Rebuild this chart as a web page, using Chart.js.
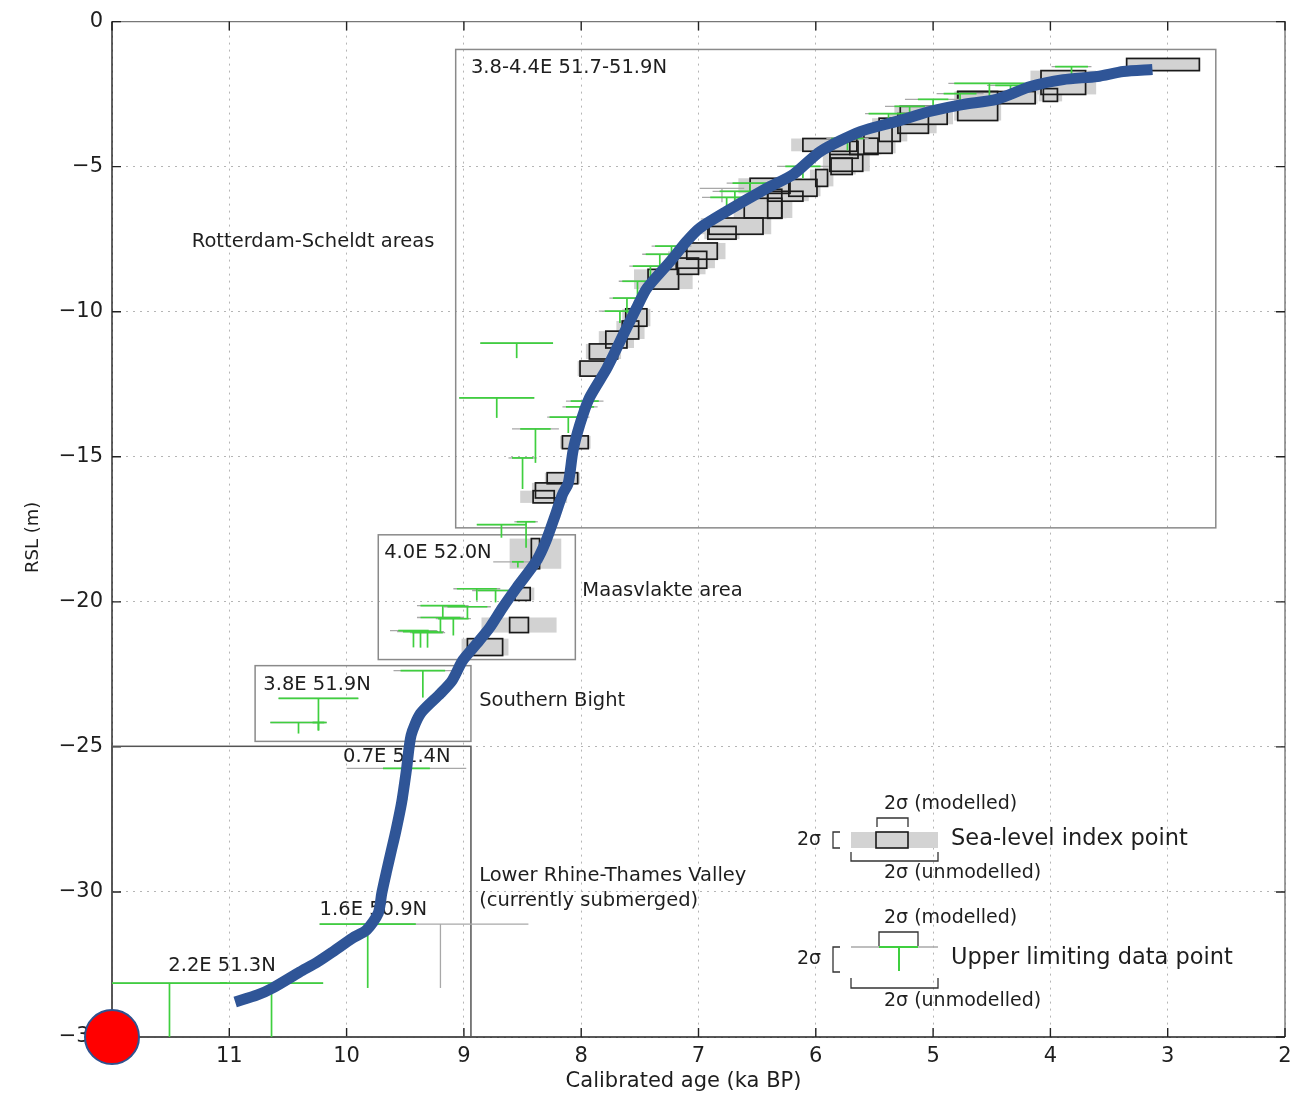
<!DOCTYPE html>
<html>
<head>
<meta charset="utf-8">
<script src="https://cdn.jsdelivr.net/npm/chart.js@4.4.1/dist/chart.umd.min.js"></script>
<style>
  html, body { margin: 0; padding: 0; background: #fff; }
  #wrap { width: 1299px; height: 1099px; }
</style>
</head>
<body>
<div id="wrap"><canvas id="c" width="1299" height="1099"></canvas></div>
<script>
// axis ticks
const ageTicks = [2, 3, 4, 5, 6, 7, 8, 9, 10, 11, 12];
const rslTicks = [0, -5, -10, -15, -20, -25, -30, -35];

// hand-drawn RSL curve (ka BP, m)
const curveAge = [10.95, 10.76, 10.63, 10.40, 10.25, 10.12, 9.95, 9.83, 9.73, 9.70, 9.66, 9.62, 9.58, 9.53,
  9.49, 9.45, 9.37, 9.20, 9.10, 9.01, 8.89, 8.78, 8.67, 8.55, 8.38, 8.30, 8.22, 8.16, 8.11, 8.07, 8.01, 7.93,
  7.78, 7.63, 7.52, 7.44, 7.24, 7.10, 6.99, 6.76, 6.42, 6.19, 5.96, 5.62, 5.31, 5.03, 4.75, 4.46, 4.17, 3.89,
  3.60, 3.38, 3.13];
const curveRsl = [-33.79, -33.55, -33.31, -32.76, -32.42, -32.07, -31.59, -31.31, -30.73, -30.04, -29.3, -28.6,
  -27.9, -26.9, -25.8, -24.6, -23.85, -23.16, -22.71, -22.02, -21.44, -20.89, -20.20, -19.51, -18.58, -17.9,
  -17.0, -16.3, -15.9, -14.8, -13.87, -12.97, -11.94, -10.7, -9.8, -9.19, -8.26, -7.57, -7.12, -6.54, -5.75,
  -5.26, -4.47, -3.79, -3.44, -3.10, -2.86, -2.68, -2.24, -2.00, -1.89, -1.72, -1.65];

// sea-level index points: centre, modelled age half-range, depth half-range, unmodelled age half-range
const idxAge = [3.04, 3.89, 4.00, 4.46, 4.62, 5.08, 5.17, 5.37, 5.47, 5.59, 5.76, 5.74, 5.88, 5.78, 5.95, 6.11,
  6.39, 6.26, 6.35, 6.45, 6.68, 6.80, 6.97, 7.06, 7.09, 7.30, 7.53, 7.58, 7.70, 7.81, 7.90, 8.05, 8.16, 8.27,
  8.32, 8.39, 8.50, 8.53, 8.82];
const idxRsl = [-1.48, -2.10, -2.53, -2.62, -2.91, -3.23, -3.51, -3.73, -4.08, -4.30, -4.42, -4.87, -4.25, -4.99,
  -5.39, -5.73, -5.66, -6.02, -6.28, -6.43, -7.05, -7.28, -7.91, -8.21, -8.43, -8.88, -10.20, -10.63, -10.96,
  -11.37, -11.96, -14.50, -15.74, -16.16, -16.38, -18.34, -19.73, -20.80, -21.56];
const idxAgeErr = [0.31, 0.19, 0.06, 0.33, 0.17, 0.20, 0.13, 0.09, 0.12, 0.12, 0.12, 0.14, 0.23, 0.09, 0.05, 0.12,
  0.17, 0.15, 0.06, 0.16, 0.23, 0.12, 0.13, 0.13, 0.09, 0.13, 0.09, 0.07, 0.09, 0.12, 0.11, 0.11, 0.13, 0.12,
  0.09, 0.035, 0.065, 0.08, 0.15];
const idxRslErr = [0.21, 0.41, 0.22, 0.21, 0.50, 0.31, 0.34, 0.40, 0.46, 0.28, 0.29, 0.29, 0.22, 0.28, 0.29, 0.29,
  0.26, 0.17, 0.50, 0.34, 0.28, 0.22, 0.28, 0.29, 0.28, 0.34, 0.30, 0.31, 0.29, 0.26, 0.26, 0.22, 0.19, 0.26,
  0.21, 0.52, 0.22, 0.26, 0.29];
const idxAgeErrU = [0.31, 0.28, 0.10, 0.35, 0.20, 0.25, 0.20, 0.15, 0.15, 0.15, 0.15, 0.20, 0.33, 0.12, 0.10, 0.15,
  0.27, 0.20, 0.10, 0.25, 0.30, 0.15, 0.20, 0.20, 0.15, 0.25, 0.12, 0.12, 0.15, 0.15, 0.13, 0.13, 0.15, 0.15,
  0.20, 0.22, 0.10, 0.32, 0.20];

// upper limiting data points: top of T, modelled / unmodelled age half-range (0 = unmodelled only), stem length
const ulAge = [3.82, 4.52, 4.34, 4.77, 5.00, 5.20, 5.38, 5.73, 6.11, 6.56, 6.69, 6.80, 6.76, 7.23, 7.33, 7.41,
  7.52, 7.61, 7.67, 8.55, 8.72, 7.97, 8.01, 8.11, 8.39, 8.50, 8.47, 8.68, 8.54, 8.89, 8.73, 9.18, 8.97, 9.20,
  9.09, 9.43, 9.37, 9.31, 9.35, 10.24, 10.41, 10.24, 9.49, 9.82, 9.20, 11.51, 10.64];
const ulRsl = [-1.55, -2.13, -2.20, -2.48, -2.68, -2.92, -3.17, -4.03, -4.99, -5.57, -5.85, -5.75, -6.06, -7.74,
  -8.02, -8.43, -8.95, -9.53, -9.98, -11.08, -12.97, -13.08, -13.28, -13.63, -14.04, -15.04, -17.24, -17.34,
  -18.62, -19.55, -19.61, -20.13, -20.17, -20.54, -20.58, -20.99, -21.03, -21.06, -22.37, -23.33, -24.16,
  -24.16, -25.74, -31.11, -31.11, -33.14, -33.14];
const ulErr = [0.14, 0.30, 0.13, 0.14, 0.13, 0.13, 0.17, 0.14, 0.15, 0.15, 0.13, 0, 0.14, 0.14, 0.12, 0.15, 0.13,
  0.12, 0.13, 0.31, 0.32, 0.12, 0.12, 0.16, 0.13, 0.09, 0.08, 0.21, 0.05, 0.17, 0.15, 0.19, 0.17, 0.17, 0.13,
  0.13, 0.15, 0.13, 0.19, 0.34, 0.24, 0.05, 0.20, 0.41, 0, 0.49, 0.44];
const ulErrU = [0.17, 0.35, 0.20, 0.20, 0.24, 0.21, 0.20, 0.18, 0.22, 0.20, 0.19, 0.19, 0.21, 0.17, 0.15, 0.18,
  0.16, 0.15, 0.18, 0.31, 0.32, 0.16, 0.15, 0.18, 0.20, 0.12, 0.10, 0.21, 0.21, 0.20, 0.20, 0.22, 0.20, 0.20,
  0.15, 0.20, 0.20, 0.15, 0.25, 0.34, 0.24, 0.05, 0.51, 0.41, 0.75, 0.49, 0.44];
const ulStem = [0.52, 0.62, 0.48, 0.48, 0.48, 0.41, 0.45, 0.41, 0.41, 0.48, 0.41, 0.48, 0.48, 0.45, 0.41, 0.52,
  0.62, 0.52, 0.41, 0.52, 0.69, 0.30, 0.24, 0.55, 1.17, 1.07, 0.90, 0.45, 0.20, 0.41, 0.41, 0.41, 0.41, 0.52,
  0.58, 0.58, 0.55, 0.52, 0.93, 1.10, 0.38, 0.28, 1.10, 2.20, 2.20, 1.86, 1.86];

// study-area boxes
const regionOld = [9.07, 9.73, 10.78, 12.0];
const regionYoung = [2.59, 8.05, 8.94, 8.94];
const regionTop = [-0.96, -17.69, -22.20, -24.98];
const regionBottom = [-17.45, -21.99, -24.81, -35.0];

const FONT = "'DejaVu Sans', 'Open Sans', sans-serif";
const INK = '#1e1e1e';
const GREEN = '#3fcf3f';

Chart.defaults.font.family = FONT;
Chart.defaults.color = INK;

const notes = [
  ['3.8-4.4E 51.7-51.9N', 8.94, -1.58],
  ['Rotterdam-Scheldt areas', 11.32, -7.60],
  ['4.0E 52.0N', 9.68, -18.31],
  ['Maasvlakte area', 7.99, -19.61],
  ['3.8E 51.9N', 10.71, -22.85],
  ['Southern Bight', 8.87, -23.43],
  ['0.7E 51.4N', 10.03, -25.36],
  ['Lower Rhine-Thames Valley', 8.87, -29.46],
  ['(currently submerged)', 8.87, -30.32],
  ['1.6E 50.9N', 10.23, -30.63],
  ['2.2E 51.3N', 11.52, -32.55],
];

function line(ctx, pts) {
  ctx.beginPath();
  ctx.moveTo(pts[0][0], pts[0][1]);
  for (let i = 1; i < pts.length; i++) ctx.lineTo(pts[i][0], pts[i][1]);
  ctx.stroke();
}

function drawKey(ctx, a) {
  // legend sits in the lower right corner of the axes
  const x0 = a.right - 488, y0 = a.bottom - 233;
  ctx.fillStyle = INK;
  ctx.textBaseline = 'middle';
  ctx.textAlign = 'left';
  ctx.strokeStyle = '#333';
  ctx.lineWidth = 1.3;

  const small = '19px ' + FONT, big = '22.5px ' + FONT;
  // index point entry
  ctx.font = small;
  ctx.fillText('2σ (modelled)', x0 + 87, y0);
  line(ctx, [[x0 + 80, y0 + 23], [x0 + 80, y0 + 14], [x0 + 111, y0 + 14], [x0 + 111, y0 + 23]]);
  ctx.fillText('2σ', x0, y0 + 36);
  line(ctx, [[x0 + 43, y0 + 28], [x0 + 36, y0 + 28], [x0 + 36, y0 + 44], [x0 + 43, y0 + 44]]);
  ctx.fillStyle = '#d3d3d3';
  ctx.fillRect(x0 + 54, y0 + 28, 87, 16);
  ctx.fillRect(x0 + 79, y0 + 28, 32, 16);
  ctx.strokeStyle = '#1a1a1a';
  ctx.lineWidth = 1.6;
  ctx.strokeRect(x0 + 79, y0 + 28, 32, 16);
  ctx.strokeStyle = '#333';
  ctx.lineWidth = 1.3;
  line(ctx, [[x0 + 54, y0 + 48], [x0 + 54, y0 + 57], [x0 + 141, y0 + 57], [x0 + 141, y0 + 48]]);
  ctx.fillStyle = INK;
  ctx.fillText('2σ (unmodelled)', x0 + 87, y0 + 69);
  ctx.font = big;
  ctx.fillText('Sea-level index point', x0 + 154, y0 + 35);

  // upper limiting entry
  const y1 = y0 + 114;
  ctx.font = small;
  ctx.fillText('2σ (modelled)', x0 + 87, y1);
  line(ctx, [[x0 + 82, y1 + 28], [x0 + 82, y1 + 14], [x0 + 121, y1 + 14], [x0 + 121, y1 + 28]]);
  ctx.strokeStyle = '#a8a8a8';
  ctx.lineWidth = 1.5;
  line(ctx, [[x0 + 54, y1 + 29], [x0 + 141, y1 + 29]]);
  ctx.strokeStyle = GREEN;
  ctx.lineWidth = 2;
  line(ctx, [[x0 + 82, y1 + 29], [x0 + 121, y1 + 29]]);
  line(ctx, [[x0 + 102, y1 + 29], [x0 + 102, y1 + 53]]);
  ctx.strokeStyle = '#333';
  ctx.lineWidth = 1.3;
  ctx.fillText('2σ', x0, y1 + 41);
  line(ctx, [[x0 + 43, y1 + 29], [x0 + 36, y1 + 29], [x0 + 36, y1 + 54], [x0 + 43, y1 + 54]]);
  line(ctx, [[x0 + 54, y1 + 60], [x0 + 54, y1 + 70], [x0 + 141, y1 + 70], [x0 + 141, y1 + 60]]);
  ctx.fillText('2σ (unmodelled)', x0 + 87, y1 + 83);
  ctx.font = big;
  ctx.fillText('Upper limiting data point', x0 + 154, y1 + 40);
}

const backdrop = {
  id: 'backdrop',
  beforeDatasetsDraw(chart) {
    const { ctx, chartArea: a, scales: { x, y } } = chart;
    const X = v => x.getPixelForValue(v);
    const Y = v => y.getPixelForValue(v);
    ctx.save();

    // axes frame with inward ticks
    ctx.lineWidth = 1.4;
    ctx.strokeStyle = '#777';
    line(ctx, [[a.left, a.top], [a.right, a.top], [a.right, a.bottom]]);
    ctx.strokeStyle = '#222';
    line(ctx, [[a.left, a.top], [a.left, a.bottom], [a.right, a.bottom]]);
    ctx.beginPath();
    ageTicks.forEach(t => {
      const px = X(t);
      ctx.moveTo(px, a.bottom); ctx.lineTo(px, a.bottom - 9);
      ctx.moveTo(px, a.top); ctx.lineTo(px, a.top + 9);
    });
    rslTicks.forEach(t => {
      const py = Y(t);
      ctx.moveTo(a.left, py); ctx.lineTo(a.left + 9, py);
      ctx.moveTo(a.right, py); ctx.lineTo(a.right - 9, py);
    });
    ctx.stroke();

    // study area boxes
    ctx.lineWidth = 1.5;
    regionOld.forEach((o, i) => {
      ctx.strokeStyle = i === 3 ? '#555' : '#8a8a8a';
      const x1 = X(o), x2 = X(regionYoung[i]);
      const y1 = Y(regionTop[i]), y2 = Y(regionBottom[i]);
      ctx.strokeRect(x1, y1, x2 - x1, y2 - y1);
    });

    // index points: unmodelled spread first, then modelled boxes
    ctx.fillStyle = '#d2d2d2';
    idxAge.forEach((g, i) => {
      const x1 = X(g + idxAgeErrU[i]), x2 = X(g - idxAgeErrU[i]);
      const y1 = Y(idxRsl[i] + idxRslErr[i]), y2 = Y(idxRsl[i] - idxRslErr[i]);
      ctx.fillRect(x1, y1, x2 - x1, y2 - y1);
    });
    ctx.strokeStyle = '#1a1a1a';
    ctx.lineWidth = 1.7;
    idxAge.forEach((g, i) => {
      const x1 = X(g + idxAgeErr[i]), x2 = X(g - idxAgeErr[i]);
      const y1 = Y(idxRsl[i] + idxRslErr[i]), y2 = Y(idxRsl[i] - idxRslErr[i]);
      ctx.strokeRect(x1, y1, x2 - x1, y2 - y1);
    });

    // upper limiting points
    ctx.strokeStyle = '#a8a8a8';
    ctx.lineWidth = 1.3;
    ulAge.forEach((g, i) => {
      const py = Y(ulRsl[i]);
      line(ctx, [[X(g + ulErrU[i]), py], [X(g - ulErrU[i]), py]]);
      if (ulErr[i] === 0) line(ctx, [[X(g), py], [X(g), Y(ulRsl[i] - ulStem[i])]]);
    });
    ctx.strokeStyle = GREEN;
    ctx.lineWidth = 1.7;
    ulAge.forEach((g, i) => {
      if (ulErr[i] === 0) return;
      const py = Y(ulRsl[i]);
      line(ctx, [[X(g + ulErr[i]), py], [X(g - ulErr[i]), py]]);
      line(ctx, [[X(g), py], [X(g), Y(ulRsl[i] - ulStem[i])]]);
    });

    // area labels
    ctx.fillStyle = INK;
    ctx.font = '19.5px ' + FONT;
    ctx.textAlign = 'left';
    ctx.textBaseline = 'middle';
    notes.forEach(([t, g, r]) => ctx.fillText(t, X(g), Y(r)));

    drawKey(ctx, a);
    ctx.restore();
  },
  afterDraw(chart) {
    const { ctx, chartArea: a } = chart;
    ctx.save();
    ctx.fillStyle = INK;
    ctx.textAlign = 'center';
    ctx.textBaseline = 'middle';
    ctx.font = '21px ' + FONT;
    ctx.fillText('Calibrated age (ka BP)', (a.left + a.right) / 2 - 15, a.bottom + 45);
    ctx.translate(33, (a.top + a.bottom) / 2 + 8);
    ctx.rotate(-Math.PI / 2);
    ctx.font = '18px ' + FONT;
    ctx.fillText('RSL (m)', 0, 0);
    ctx.restore();
  }
};

new Chart(document.getElementById('c'), {
  type: 'scatter',
  data: {
    datasets: [
      {
        // marker at the origin corner
        data: [{ x: 12, y: -35 }],
        pointRadius: 27,
        pointBackgroundColor: '#ff0000',
        pointBorderColor: '#2f528f',
        pointBorderWidth: 2,
        clip: false,
      },
      {
        data: curveAge.map((a, i) => ({ x: a, y: curveRsl[i] })),
        showLine: true,
        borderColor: '#2f5597',
        borderWidth: 11,
        borderJoinStyle: 'round',
        borderCapStyle: 'butt',
        tension: 0.25,
        pointRadius: 0,
      },
    ],
  },
  options: {
    responsive: false,
    animation: false,
    devicePixelRatio: 1,
    events: [],
    layout: { autoPadding: false, padding: { top: 20, right: 14, left: 0, bottom: 0 } },
    plugins: { legend: { display: false }, tooltip: { enabled: false } },
    scales: {
      x: {
        type: 'linear',
        min: 2,
        max: 12,
        reverse: true,
        afterBuildTicks: s => { s.ticks = ageTicks.map(v => ({ value: v })); },
        afterFit: s => { s.height = 62; },
        grid: { color: '#b5b5b5', drawTicks: false, lineWidth: 1 },
        border: { display: false, dash: [2, 5] },
        ticks: { font: { size: 21 }, color: INK, padding: 7, maxRotation: 0, autoSkip: false },
      },
      y: {
        type: 'linear',
        min: -35,
        max: 0,
        afterBuildTicks: s => { s.ticks = rslTicks.map(v => ({ value: v })); },
        afterFit: s => { s.width = 112; },
        grid: { color: '#b5b5b5', drawTicks: false, lineWidth: 1 },
        border: { display: false, dash: [2, 5] },
        ticks: {
          font: { size: 21 },
          color: INK,
          padding: 9,
          callback: v => (v === 0 ? '0' : '\u2212' + Math.abs(v)),
        },
      },
    },
  },
  plugins: [backdrop],
});
</script>
</body>
</html>
